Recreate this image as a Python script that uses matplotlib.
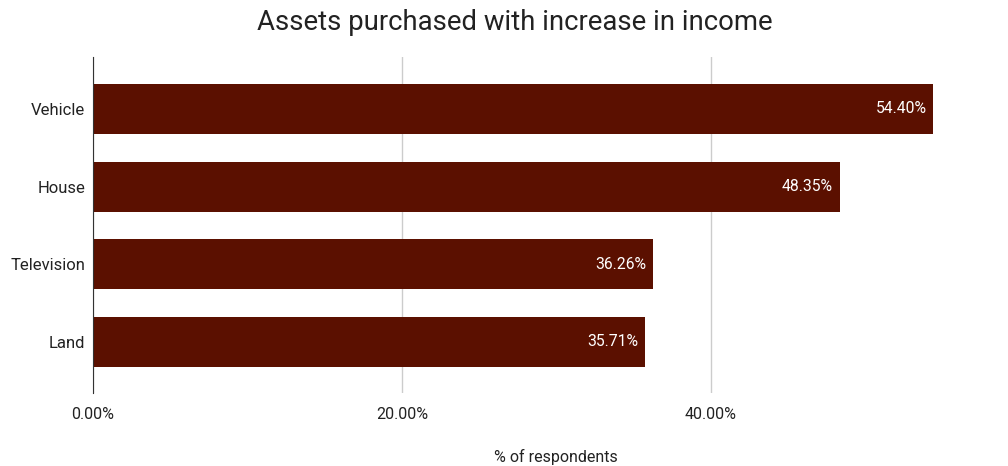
import matplotlib.pyplot as plt

plt.rcParams['font.family'] = ['Roboto', 'DejaVu Sans']

BAR_COLOR = '#5b1000'
TEXT_COLOR = '#222222'

assets = ['Vehicle', 'House', 'Television', 'Land']
share = [54.40, 48.35, 36.26, 35.71]
x_ticks = [0, 20, 40]
x_tick_labels = ['0.00%', '20.00%', '40.00%']

fig = plt.figure(figsize=(10.08, 4.66), dpi=100)
fig.set_facecolor('white')
ax = fig.add_axes([93 / 1008, 73 / 466, (990 - 93) / 1008, 336 / 466])

pos = list(range(len(assets)))
ax.barh(pos, share, height=0.645, color=BAR_COLOR, zorder=3)

for y, v in zip(pos, share):
    ax.text(v - 0.45, y, f'{v:.2f}%', color='white', fontsize=11.3,
            ha='right', va='center', zorder=4)

ax.set_xlim(0, (990 - 93) / 15.45)
ax.set_ylim(3.66, -0.67)
ax.set_yticks(pos)
ax.set_yticklabels(assets, fontsize=12, color=TEXT_COLOR)
ax.set_xticks(x_ticks)
ax.set_xticklabels(x_tick_labels, fontsize=11.5, color=TEXT_COLOR)
ax.tick_params(axis='y', length=0, pad=5.5)
ax.tick_params(axis='x', length=0, pad=10)

ax.grid(axis='x', color='#cccccc', linewidth=1, zorder=0)
for side in ['top', 'right', 'bottom']:
    ax.spines[side].set_visible(False)
ax.spines['left'].set_color('#333333')
ax.spines['left'].set_zorder(5)

fig.text(556 / 1008, 1 - 457 / 466, '% of respondents', fontsize=11.5,
         color=TEXT_COLOR, ha='center', va='center')
fig.text(515 / 1008, 1 - 22 / 466, 'Assets purchased with increase in income',
         fontsize=19.8, color=TEXT_COLOR, ha='center', va='center')

fig.savefig('out.png', dpi=100)
